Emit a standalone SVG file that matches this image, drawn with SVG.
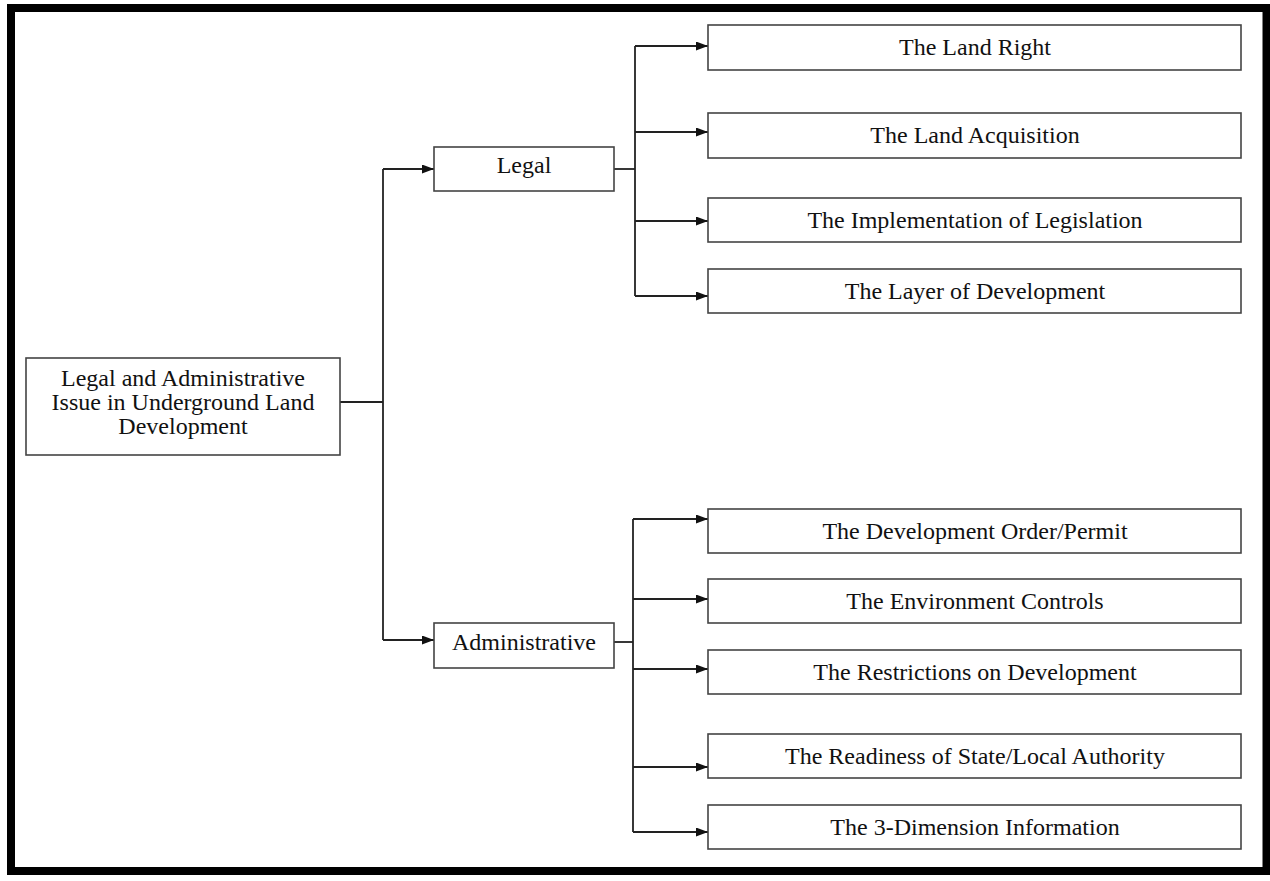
<svg xmlns="http://www.w3.org/2000/svg" width="1270" height="881" viewBox="0 0 1270 881">
<defs>
<style>
.box{fill:#fff;stroke:#444;stroke-width:1.6}
.t{font-family:"Liberation Serif","Times New Roman",serif;font-size:24px;fill:#111;text-anchor:middle}
.ln{fill:none;stroke:#222;stroke-width:1.8}
</style>
<marker id="ah" viewBox="0 0 12 9" refX="12" refY="4.5" markerWidth="12" markerHeight="9" markerUnits="userSpaceOnUse" orient="auto">
<path d="M0,0 L12,4.5 L0,9 Z" fill="#111"/>
</marker>
</defs>
<rect x="0" y="0" width="1270" height="881" fill="#fff"/>
<rect x="11" y="8" width="1255.5" height="863" fill="none" stroke="#000" stroke-width="8"/>
<g id="connectors">
<path class="ln" d="M340,402 H383"/>
<path class="ln" d="M383,169 V640"/>
<path class="ln" d="M383,169 H434" marker-end="url(#ah)"/>
<path class="ln" d="M383,640 H434" marker-end="url(#ah)"/>
<path class="ln" d="M614,169 H635"/>
<path class="ln" d="M635,46 V296"/>
<path class="ln" d="M635,46 H708" marker-end="url(#ah)"/>
<path class="ln" d="M635,132 H708" marker-end="url(#ah)"/>
<path class="ln" d="M635,221 H708" marker-end="url(#ah)"/>
<path class="ln" d="M635,296 H708" marker-end="url(#ah)"/>
<path class="ln" d="M614,642 H633"/>
<path class="ln" d="M633,519 V832"/>
<path class="ln" d="M633,519 H708" marker-end="url(#ah)"/>
<path class="ln" d="M633,599 H708" marker-end="url(#ah)"/>
<path class="ln" d="M633,669 H708" marker-end="url(#ah)"/>
<path class="ln" d="M633,767 H708" marker-end="url(#ah)"/>
<path class="ln" d="M633,832 H708" marker-end="url(#ah)"/>
</g>
<g id="root">
<rect class="box" x="26" y="358" width="314" height="97"/>
<text class="t" x="183" y="386">Legal and Administrative</text>
<text class="t" x="183" y="410">Issue in Underground Land</text>
<text class="t" x="183" y="434">Development</text>
</g>
<g id="legal">
<rect class="box" x="434" y="147" width="180" height="44"/>
<text class="t" x="524" y="173">Legal</text>
</g>
<g id="administrative">
<rect class="box" x="434" y="623" width="180" height="45"/>
<text class="t" x="524" y="650">Administrative</text>
</g>
<g id="land-right">
<rect class="box" x="708" y="25" width="533" height="45"/>
<text class="t" x="975" y="55">The Land Right</text>
</g>
<g id="land-acquisition">
<rect class="box" x="708" y="113" width="533" height="45"/>
<text class="t" x="975" y="143">The Land Acquisition</text>
</g>
<g id="implementation">
<rect class="box" x="708" y="198" width="533" height="44"/>
<text class="t" x="975" y="228">The Implementation of Legislation</text>
</g>
<g id="layer">
<rect class="box" x="708" y="269" width="533" height="44"/>
<text class="t" x="975" y="299">The Layer of Development</text>
</g>
<g id="development-order">
<rect class="box" x="708" y="509" width="533" height="44"/>
<text class="t" x="975" y="539">The Development Order/Permit</text>
</g>
<g id="environment">
<rect class="box" x="708" y="579" width="533" height="44"/>
<text class="t" x="975" y="609">The Environment Controls</text>
</g>
<g id="restrictions">
<rect class="box" x="708" y="650" width="533" height="44"/>
<text class="t" x="975" y="680">The Restrictions on Development</text>
</g>
<g id="readiness">
<rect class="box" x="708" y="734" width="533" height="44"/>
<text class="t" x="975" y="764">The Readiness of State/Local Authority</text>
</g>
<g id="three-d">
<rect class="box" x="708" y="805" width="533" height="44"/>
<text class="t" x="975" y="835">The 3-Dimension Information</text>
</g>
</svg>
